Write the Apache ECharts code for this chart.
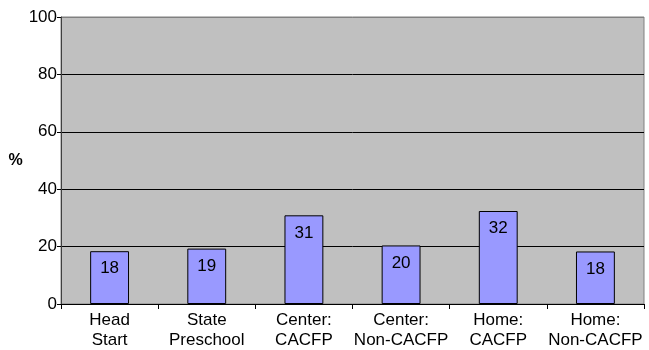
<!DOCTYPE html>
<html>
<head>
<meta charset="utf-8">
<script src="https://cdn.jsdelivr.net/npm/echarts@6/dist/echarts.min.js"></script>
<style>
  html, body { margin: 0; padding: 0; background: #fff; }
  #chart { width: 649px; height: 350px; }
</style>
</head>
<body>
<div id="chart"></div>
<script>
// program types and share (%)
const categories = ['Head\nStart', 'State\nPreschool', 'Center:\nCACFP', 'Center:\nNon-CACFP', 'Home:\nCACFP', 'Home:\nNon-CACFP']
const values = [18.4, 19.3, 30.9, 20.4, 32.4, 18.3]
const yTicks = [0, 20, 40, 60, 80, 100]

const chart = echarts.init(document.getElementById('chart'))
const font = 'Arial, "Liberation Sans", sans-serif'

chart.setOption({
  animation: false,
  grid: {
    left: 61,
    right: 5,
    top: 17,
    bottom: 46,
    show: true,
    backgroundColor: '#C0C0C0',
    borderColor: '#808080',
    borderWidth: 1
  },
  xAxis: {
    type: 'category',
    data: categories,
    axisLine: { lineStyle: { color: '#000', width: 1 } },
    axisTick: { show: true, length: 5, lineStyle: { color: '#000' } },
    axisLabel: {
      interval: 0,
      color: '#000',
      fontFamily: font,
      fontSize: 17,
      lineHeight: 20,
      margin: 6
    }
  },
  yAxis: {
    type: 'value',
    min: yTicks[0],
    max: yTicks[yTicks.length - 1],
    interval: 20,
    name: '%',
    nameLocation: 'middle',
    nameRotate: 0,
    nameGap: 37,
    nameTextStyle: { color: '#000', fontFamily: font, fontSize: 16, fontWeight: 'bold' },
    axisLine: { show: true, lineStyle: { color: '#404040', width: 1 } },
    axisTick: { show: true, length: 4, lineStyle: { color: '#000' } },
    axisLabel: { color: '#000', fontFamily: font, fontSize: 17, margin: 4 },
    splitLine: {
      show: true,
      lineStyle: { color: ['#000', '#000', '#000', '#000', '#000', '#808080'], width: 1 }
    }
  },
  series: [{
    type: 'bar',
    data: values,
    barWidth: '40%',
    itemStyle: { color: '#9999FF', borderColor: '#000', borderWidth: 1 },
    label: {
      show: true,
      position: 'insideTop',
      distance: 9,
      color: '#000',
      fontFamily: font,
      fontSize: 17,
      formatter: p => Math.round(p.value)
    }
  }]
})
</script>
</body>
</html>
